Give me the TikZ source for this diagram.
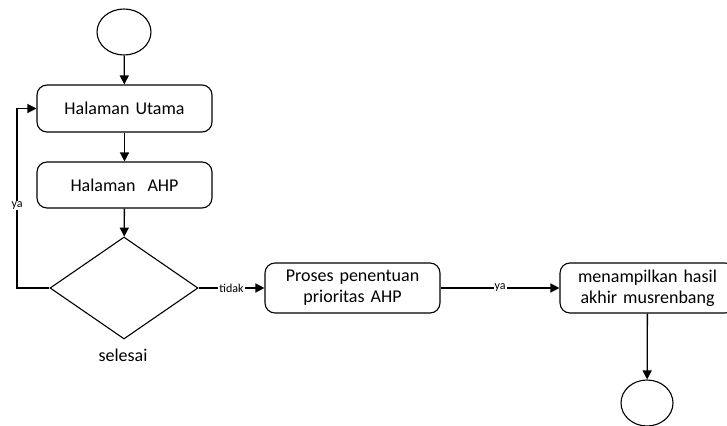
\documentclass[tikz,border=0pt]{standalone}
\usepackage{fontspec}
\setmainfont{Carlito}
\usetikzlibrary{shapes,arrows,arrows.meta}
\tikzstyle{block}=[rectangle, draw, line width=1.1pt, text width=160pt,
                   align=center, rounded corners=10pt, minimum height=47pt,
                   minimum width=175pt, font=\fontsize{18}{21}\selectfont]
\tikzstyle{line} =[draw, line width=1.3pt, -{Triangle[length=9pt,width=9pt]}]
\tikzstyle{decision} = [diamond, draw, line width=1.1pt, inner sep=0pt, minimum width=148pt, minimum height=102pt]
\tikzstyle{terminal} = [draw, ellipse, line width=1.1pt, minimum width=54pt, minimum height=46pt]
\tikzstyle{tag} = [fill=white, inner sep=1pt, font=\fontsize{12}{14}\selectfont]
\begin{document}
\begin{tikzpicture}[x=1pt, y=-1pt]
    \useasboundingbox (0,0) rectangle (727,425);
    \node [terminal] at (124,32)       (start)   {};
    \node [block] at (124.5,108.5)     (utama)   {Halaman Utama};
    \node [block, minimum height=46pt] at (124.5,185) (ahp) {Halaman~~AHP};
    \node [decision] at (124,288)      (selesai) {};
    \node [font=\fontsize{18}{21}\selectfont] at (123,355) (selesaitext) {selesai};
    \node [block, minimum height=50pt] at (352.5,288) (proses) {Proses penentuan\\prioritas AHP};
    \node [block, minimum height=50pt] at (647.5,288) (hasil)  {menampilkan hasil\\akhir musrenbang};
    \node [terminal, minimum width=52pt] at (647,403) (finish) {};
    \coordinate (loop) at (17,288);
    \path [line] (start)   -- (utama);
    \path [line] (utama)   -- (ahp);
    \path [line] (ahp)     -- (selesai);
    \path [line] (selesai.west) -- (loop) |- node[tag, pos=0.23] {ya} (utama.west);
    \path [line] (selesai) -- node[tag] {tidak} (proses);
    \path [line] (proses)  -- node[tag] {ya} (hasil);
    \path [line] (hasil)   -- (finish);
\end{tikzpicture}
\end{document}
